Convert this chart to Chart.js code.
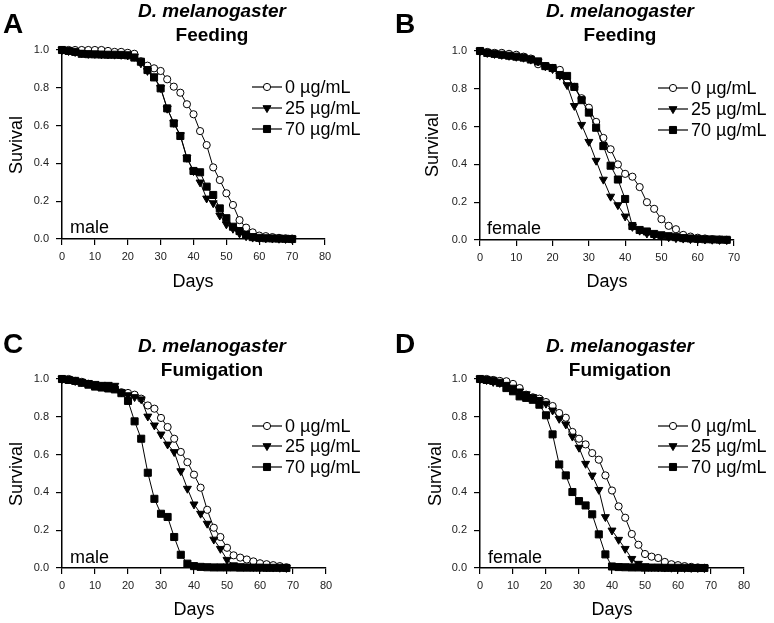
<!DOCTYPE html>
<html>
<head>
<meta charset="utf-8">
<script src="https://cdn.jsdelivr.net/npm/chart.js@4.4.1/dist/chart.umd.min.js"></script>
<style>
  html, body { margin: 0; padding: 0; background: #fff; }
  #wrap { position: relative; width: 774px; height: 623px; }
  canvas { position: absolute; }
</style>
</head>
<body>
<div id="wrap">
  <canvas id="chartA" width="387" height="311" style="left:0px;top:0px"></canvas>
  <canvas id="chartB" width="387" height="311" style="left:387px;top:0px"></canvas>
  <canvas id="chartC" width="387" height="312" style="left:0px;top:311px"></canvas>
  <canvas id="chartD" width="387" height="312" style="left:387px;top:311px"></canvas>
</div>
<script>
// ------------------------- DATA -------------------------
const concLabels = ['0 µg/mL', '25 µg/mL', '70 µg/mL'];
const yTicks = [0, 0.2, 0.4, 0.6, 0.8, 1.0];

// A: feeding, male
const daysA = [0,2,4,6,8,10,12,14,16,18,20,22,24,26,28,30,32,34,36,38,40,42,44,46,48,50,52,54,56,58,60,62,64,66,68,70];
const feedMale0  = [1,1,1,1,1,1,1,0.995,0.99,0.99,0.985,0.98,0.94,0.917,0.903,0.889,0.845,0.806,0.774,0.713,0.66,0.571,0.497,0.379,0.312,0.242,0.18,0.1,0.06,0.035,0.018,0.015,0.01,0.006,0.003,0.002];
const feedMale25 = [1,0.995,0.99,0.985,0.98,0.98,0.978,0.977,0.976,0.975,0.972,0.965,0.93,0.89,0.86,0.8,0.69,0.615,0.55,0.43,0.36,0.3,0.215,0.19,0.125,0.078,0.055,0.03,0.015,0.008,0.005,0.004,0.003,0.002,0.001,0];
const feedMale70 = [1,0.995,0.99,0.98,0.978,0.977,0.976,0.975,0.975,0.974,0.972,0.96,0.938,0.894,0.855,0.797,0.691,0.612,0.545,0.427,0.36,0.353,0.277,0.233,0.162,0.11,0.065,0.042,0.021,0.01,0.006,0.004,0.003,0.002,0.001,0];

// B: feeding, female
const daysB = [0,2,4,6,8,10,12,14,16,18,20,22,24,26,28,30,32,34,36,38,40,42,44,46,48,50,52,54,56,58,60,62,64,66,68];
const feedFemale0  = [1,0.995,0.99,0.99,0.985,0.98,0.97,0.96,0.93,0.92,0.91,0.9,0.84,0.81,0.75,0.7,0.625,0.54,0.48,0.4,0.35,0.335,0.28,0.2,0.165,0.11,0.075,0.057,0.027,0.018,0.012,0.008,0.004,0.002,0.001];
const feedFemale25 = [1,0.99,0.985,0.98,0.975,0.97,0.965,0.955,0.945,0.92,0.905,0.87,0.82,0.71,0.61,0.52,0.42,0.32,0.23,0.185,0.125,0.07,0.05,0.035,0.025,0.02,0.015,0.01,0.008,0.005,0.004,0.003,0.002,0.001,0];
const feedFemale70 = [1,0.99,0.985,0.98,0.975,0.97,0.965,0.955,0.945,0.92,0.91,0.873,0.868,0.81,0.74,0.674,0.594,0.497,0.393,0.32,0.217,0.074,0.053,0.045,0.032,0.025,0.02,0.015,0.01,0.008,0.006,0.004,0.003,0.002,0.001];

// C: fumigation, male
const daysC = [0,2,4,6,8,10,12,14,16,18,20,22,24,26,28,30,32,34,36,38,40,42,44,46,48,50,52,54,56,58,60,62,64,66,68];
const fumMale0  = [1,1,0.99,0.985,0.975,0.965,0.96,0.955,0.95,0.93,0.926,0.917,0.896,0.86,0.843,0.794,0.746,0.684,0.614,0.56,0.494,0.425,0.308,0.213,0.164,0.107,0.067,0.055,0.045,0.035,0.025,0.02,0.015,0.01,0.004];
const fumMale25 = [1,1,0.99,0.985,0.98,0.975,0.97,0.97,0.965,0.93,0.915,0.905,0.893,0.802,0.755,0.707,0.654,0.614,0.513,0.42,0.337,0.288,0.235,0.151,0.102,0.044,0.015,0.01,0.008,0.006,0.005,0.004,0.003,0.002,0.001];
const fumMale70 = [1,0.995,0.99,0.98,0.97,0.96,0.955,0.95,0.945,0.925,0.884,0.776,0.684,0.504,0.366,0.287,0.27,0.164,0.07,0.023,0.01,0.006,0.004,0.003,0.003,0.003,0.003,0.002,0.002,0.002,0.002,0.001,0.001,0.001,0];

// D: fumigation, female
const daysD = [0,2,4,6,8,10,12,14,16,18,20,22,24,26,28,30,32,34,36,38,40,42,44,46,48,50,52,54,56,58,60,62,64,66,68];
const fumFemale0  = [1,1,0.995,0.99,0.988,0.974,0.952,0.917,0.903,0.896,0.878,0.857,0.82,0.795,0.72,0.684,0.654,0.608,0.573,0.49,0.41,0.326,0.266,0.18,0.123,0.074,0.06,0.053,0.032,0.02,0.015,0.01,0.006,0.003,0.001];
const fumFemale25 = [1,0.995,0.985,0.98,0.97,0.955,0.935,0.92,0.905,0.89,0.87,0.834,0.79,0.76,0.696,0.637,0.552,0.49,0.414,0.27,0.199,0.15,0.102,0.049,0.023,0.01,0.006,0.004,0.003,0.002,0.002,0.001,0.001,0.001,0];
const fumFemale70 = [1,0.995,0.99,0.98,0.952,0.935,0.908,0.9,0.89,0.864,0.808,0.707,0.548,0.49,0.402,0.354,0.331,0.284,0.178,0.072,0.008,0.005,0.004,0.003,0.003,0.002,0.002,0.002,0.001,0.001,0.001,0.001,0,0,0];

// ------------------------- STYLE -------------------------
const FONT = "'Liberation Sans', Arial, sans-serif";
Chart.defaults.font.family = FONT;

const markerStyles = [
  { pointStyle: 'circle',   pointRotation: 0,   pointRadius: 3.6, pointBackgroundColor: '#fff', order: 3 },
  { pointStyle: 'triangle', pointRotation: 180, pointRadius: 4.6, pointBackgroundColor: '#000', order: 2 },
  { pointStyle: 'rect',     pointRotation: 0,   pointRadius: 5,   pointBackgroundColor: '#000', order: 1 }
];

// draws panel letter, titles, axis titles, sex label and the in-plot legend
const panelText = {
  id: 'panelText',
  afterDraw(chart, args, o) {
    const ctx = chart.ctx;
    ctx.save();
    ctx.fillStyle = '#000';
    ctx.textBaseline = 'alphabetic';

    ctx.textAlign = 'left';
    ctx.font = 'bold 28px ' + FONT;
    ctx.fillText(o.letter, o.letterX, o.letterY);

    ctx.textAlign = 'center';
    ctx.font = 'italic bold 19px ' + FONT;
    ctx.fillText('D. melanogaster', o.titleX, o.titleY1);
    ctx.font = 'bold 19px ' + FONT;
    ctx.fillText(o.subtitle, o.titleX, o.titleY2);

    ctx.font = '18px ' + FONT;
    ctx.fillText('Days', o.daysX, o.daysY);

    ctx.save();
    ctx.translate(o.yTitleX, o.yTitleY);
    ctx.rotate(-Math.PI / 2);
    ctx.textBaseline = 'middle';
    ctx.fillText(o.yTitle, 0, 0);
    ctx.restore();

    ctx.textAlign = 'left';
    ctx.fillText(o.sex, o.sexX, o.sexY);

    // legend
    chart.data.datasets.forEach((ds, i) => {
      const y = o.legendY[i];
      ctx.strokeStyle = '#000';
      ctx.lineWidth = 1.2;
      ctx.beginPath();
      ctx.moveTo(o.legendX, y);
      ctx.lineTo(o.legendX + 30, y);
      ctx.stroke();
      ctx.fillStyle = ds.pointBackgroundColor;
      ctx.lineWidth = 1;
      Chart.helpers.drawPoint(ctx, {
        pointStyle: ds.pointStyle, rotation: ds.pointRotation,
        radius: ds.pointRadius, borderWidth: 1
      }, o.legendX + 15, y);
      ctx.fillStyle = '#000';
      ctx.textBaseline = 'middle';
      ctx.fillText(ds.label, o.legendX + 33, y + 1);
      ctx.textBaseline = 'alphabetic';
    });
    ctx.restore();
  }
};

function makeDatasets(days, series) {
  return series.map((vals, i) => ({
    label: concLabels[i],
    data: days.map((d, k) => ({ x: d, y: vals[k] })),
    borderColor: '#000',
    borderWidth: 1,
    pointBorderColor: '#000',
    pointBorderWidth: 1,
    tension: 0,
    clip: false,
    ...markerStyles[i]
  }));
}

function drawPanel(id, days, series, xMax, area, text) {
  const cv = document.getElementById(id);
  const W = cv.width, H = cv.height;
  const yAxisW = 40, xAxisH = 30;
  new Chart(cv.getContext('2d'), {
    type: 'line',
    data: { datasets: makeDatasets(days, series) },
    options: {
      responsive: false,
      animation: false,
      events: [],
      layout: {
        padding: {
          left: area.left - yAxisW,
          top: area.top,
          right: W - area.right,
          bottom: H - area.bottom - xAxisH
        }
      },
      scales: {
        x: {
          type: 'linear', min: 0, max: xMax,
          afterFit: s => { s.height = xAxisH; },
          ticks: { stepSize: 10, autoSkip: false, maxRotation: 0, color: '#222', font: { size: 11 }, padding: 5 },
          grid: { drawOnChartArea: false, drawTicks: true, tickLength: 6, color: '#000', lineWidth: 1.2 },
          border: { color: '#000', width: 1.5 }
        },
        y: {
          min: 0, max: 1,
          afterFit: s => { s.width = yAxisW; },
          afterBuildTicks: s => { s.ticks = yTicks.map(v => ({ value: v })); },
          ticks: { color: '#222', font: { size: 11 }, padding: 7, callback: v => v.toFixed(1) },
          grid: { drawOnChartArea: false, drawTicks: true, tickLength: 6, color: '#000', lineWidth: 1.2 },
          border: { color: '#000', width: 1.5 }
        }
      },
      plugins: {
        legend: { display: false },
        tooltip: { enabled: false },
        panelText: text
      }
    },
    plugins: [panelText]
  });
}

drawPanel('chartA', daysA, [feedMale0, feedMale25, feedMale70], 80,
  { left: 62, top: 50, right: 325, bottom: 239 },
  { letter: 'A', letterX: 3, letterY: 33, titleX: 212, titleY1: 17, titleY2: 41, subtitle: 'Feeding',
    daysX: 193, daysY: 287, yTitle: 'Suvival', yTitleX: 17, yTitleY: 145,
    sex: 'male', sexX: 70, sexY: 233, legendX: 252, legendY: [87, 108, 129] });

drawPanel('chartB', daysB, [feedFemale0, feedFemale25, feedFemale70], 70,
  { left: 93, top: 51, right: 347, bottom: 240 },
  { letter: 'B', letterX: 8, letterY: 33, titleX: 233, titleY1: 17, titleY2: 41, subtitle: 'Feeding',
    daysX: 220, daysY: 287, yTitle: 'Survival', yTitleX: 46, yTitleY: 145,
    sex: 'female', sexX: 100, sexY: 234, legendX: 271, legendY: [88, 109, 130] });

drawPanel('chartC', daysC, [fumMale0, fumMale25, fumMale70], 80,
  { left: 62, top: 68, right: 326, bottom: 257 },
  { letter: 'C', letterX: 3, letterY: 42, titleX: 212, titleY1: 41, titleY2: 65, subtitle: 'Fumigation',
    daysX: 194, daysY: 304, yTitle: 'Survival', yTitleX: 17, yTitleY: 163,
    sex: 'male', sexX: 70, sexY: 252, legendX: 252, legendY: [115, 135, 156] });

drawPanel('chartD', daysD, [fumFemale0, fumFemale25, fumFemale70], 80,
  { left: 93, top: 68, right: 357, bottom: 257 },
  { letter: 'D', letterX: 8, letterY: 42, titleX: 233, titleY1: 41, titleY2: 65, subtitle: 'Fumigation',
    daysX: 225, daysY: 304, yTitle: 'Survival', yTitleX: 49, yTitleY: 163,
    sex: 'female', sexX: 101, sexY: 252, legendX: 271, legendY: [115, 135, 156] });
</script>
</body>
</html>
